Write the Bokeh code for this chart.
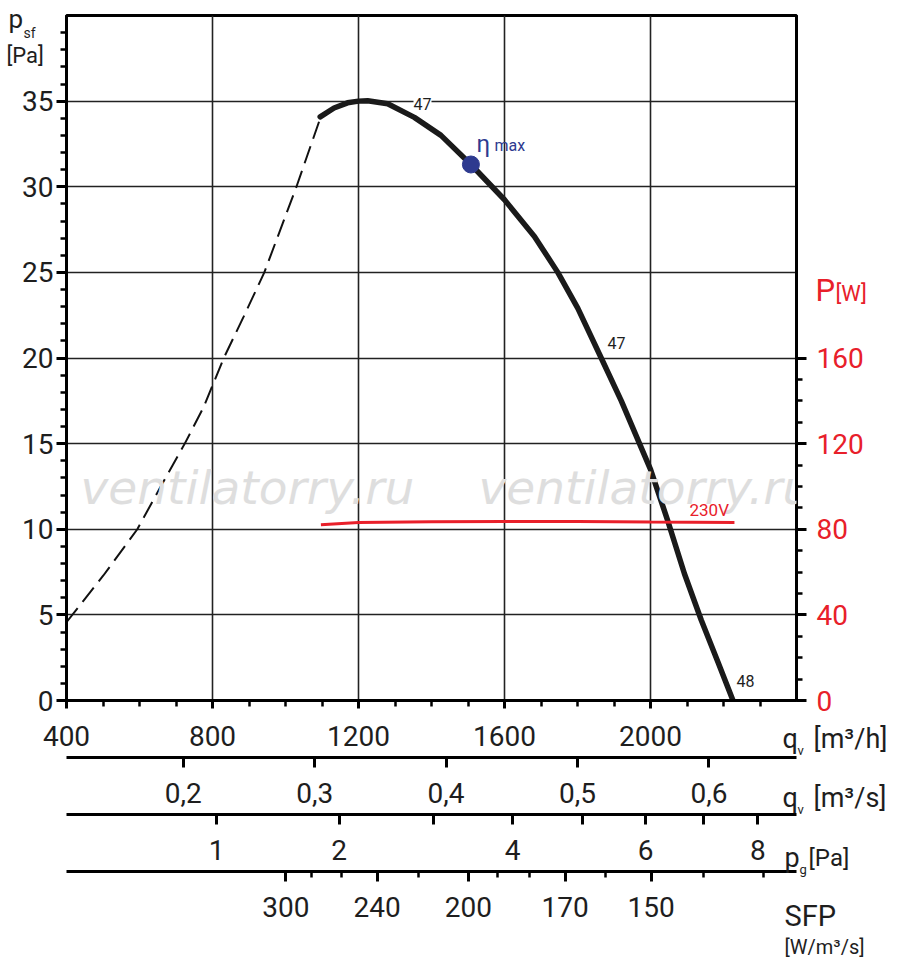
import numpy as np
from bokeh.plotting import figure
from bokeh.models import Range1d, LinearAxis, FixedTicker, Label
from bokeh.core.properties import value
from bokeh.embed import file_html
from bokeh.resources import INLINE

# ---------------- data ----------------
q_dash = [400, 501, 594, 657, 724, 775, 831, 885, 942, 1030, 1096]          # m3/h, unstable part
p_dash = [4.57, 7.3, 10.0, 12.45, 15.0, 17.1, 20.0, 22.4, 25.0, 30.0, 34.05]  # Pa
q_solid = [1095, 1133, 1170, 1200, 1225, 1280, 1353, 1426, 1508, 1600, 1682, 1746, 1801, 1865, 1920, 2000, 2048, 2093, 2139, 2185, 2226]
p_solid = [34.08, 34.6, 34.9, 35.0, 35.02, 34.85, 34.05, 33.0, 31.3, 29.24, 27.1, 25.0, 22.9, 20.0, 17.5, 13.5, 10.45, 7.4, 4.7, 2.23, 0.0]
q_eta, p_eta = 1508, 31.3
q_pow = [1097, 1200, 1400, 1600, 1800, 2000, 2230]
w_pow = [82.1, 83.2, 83.5, 83.6, 83.6, 83.4, 83.2]            # W
x_ticks = [400, 800, 1200, 1600, 2000]
y_ticks = [0, 5, 10, 15, 20, 25, 30, 35]
w_ticks = [0, 40, 80, 120, 160]
qs_ticks = [0.2, 0.3, 0.4, 0.5, 0.6]
pg_ticks = [1, 2, 3, 4, 5, 6, 7, 8]
pg_labeled = [1, 2, 4, 6, 8]
sfp_major = [300, 240, 200, 170, 150]
sfp_minor = [280, 260, 220, 190, 180, 160, 140, 130]
PG1_Q = 811.0          # m3/h at which p_g = 1 Pa
SFP_P = 83.4           # W used for SFP scale

FONT = "Roboto"
TS = "28px"
RED = "#e8202a"
INK = "#1e1e1e"

# frame geometry helpers (canvas px -> data), for text placement only
def dx(px):
    return 400 + (px - 66) * 2000 / 730
def dy(py):
    return (700 - py) * 40 / 685

p = figure(frame_width=730, frame_height=685, x_range=Range1d(400, 2400), y_range=Range1d(0, 40),
           output_backend="svg", toolbar_location=None, min_border_left=66, min_border_right=104,
           min_border_top=15, min_border_bottom=5)
p.background_fill_color = "white"
p.outline_line_color = "black"
p.outline_line_width = 3

p.xgrid.ticker = FixedTicker(ticks=x_ticks)
p.ygrid.ticker = FixedTicker(ticks=y_ticks)
for g in (p.xgrid, p.ygrid):
    g.grid_line_color = "#222222"
    g.grid_line_width = 1.6

def style_axis(ax, color=INK):
    ax.axis_line_width = 3
    ax.axis_line_color = "black"
    ax.major_tick_line_width = 3
    ax.minor_tick_line_width = 2.5
    ax.major_tick_line_color = "black"
    ax.minor_tick_line_color = "black"
    ax.major_label_text_font = FONT
    ax.major_label_text_font_size = TS
    ax.major_label_text_color = color

def pad(ax, size="6px"):
    ax.axis_label = "\u00a0"
    ax.axis_label_text_font_size = size
    ax.axis_label_standoff = 0

# left axis
ya = p.yaxis[0]
ya.ticker = FixedTicker(ticks=y_ticks, minor_ticks=list(range(1, 40)))
style_axis(ya)
ya.major_tick_out = 10; ya.major_tick_in = 0
ya.minor_tick_out = 6; ya.minor_tick_in = 0
ya.major_label_standoff = 3

# right axis (W)
p.extra_y_ranges = {"pw": Range1d(0, 320)}
ra = LinearAxis(y_range_name="pw", ticker=FixedTicker(ticks=w_ticks, minor_ticks=list(range(10, 160, 10))))
style_axis(ra, RED)
ra.major_tick_out = 10; ra.major_tick_in = 0
ra.minor_tick_out = 6; ra.minor_tick_in = 0
ra.major_label_standoff = 10
p.add_layout(ra, "right")

# bottom axis m3/h
xa = p.xaxis[0]
xa.ticker = FixedTicker(ticks=x_ticks, minor_ticks=list(range(500, 2400, 100)))
style_axis(xa)
xa.major_tick_out = 8; xa.major_tick_in = 0
xa.minor_tick_out = 6; xa.minor_tick_in = 0
xa.major_label_standoff = 17
pad(xa)

p.extra_x_ranges = {"qs": Range1d(400 / 3600, 2400 / 3600), "q2": Range1d(400, 2400), "q3": Range1d(400, 2400)}

# m3/s axis
a_qs = LinearAxis(x_range_name="qs", ticker=FixedTicker(ticks=qs_ticks, minor_ticks=[]))
style_axis(a_qs)
a_qs.major_tick_out = 10; a_qs.major_tick_in = 0
a_qs.major_label_standoff = 15
a_qs.major_label_overrides = {t: ("%.1f" % t).replace(".", ",") for t in qs_ticks}
pad(a_qs)
p.add_layout(a_qs, "below")

# p_g axis
pg_pos = [PG1_Q * np.sqrt(v) for v in pg_ticks]
a_pg = LinearAxis(x_range_name="q2", ticker=FixedTicker(ticks=pg_pos, minor_ticks=[]))
style_axis(a_pg)
a_pg.major_tick_out = 10; a_pg.major_tick_in = 0
a_pg.major_label_standoff = 15
a_pg.major_label_overrides = {pos: (str(v) if v in pg_labeled else "") for pos, v in zip(pg_pos, pg_ticks)}
pad(a_pg)
p.add_layout(a_pg, "below")

# SFP axis
sfp_pos = [SFP_P * 3600 / v for v in sfp_major]
sfp_mpos = [SFP_P * 3600 / v for v in sfp_minor]
a_sfp = LinearAxis(x_range_name="q3", ticker=FixedTicker(ticks=sfp_pos, minor_ticks=sfp_mpos))
style_axis(a_sfp)
a_sfp.major_tick_out = 10; a_sfp.major_tick_in = 0
a_sfp.minor_tick_out = 6; a_sfp.minor_tick_in = 0
a_sfp.major_label_standoff = 15
a_sfp.major_label_overrides = {pos: str(v) for pos, v in zip(sfp_pos, sfp_major)}
pad(a_sfp, "34px")
p.add_layout(a_sfp, "below")

# watermark
for wx in (80, 478):
    p.add_layout(Label(x=dx(wx), y=dy(487), text="ventilatorry.ru", text_font="DejaVu Sans",
                       text_font_style="italic", text_font_size="47px", text_color="#dedede",
                       text_baseline="middle"))

# curves
p.line(q_dash, p_dash, line_color="#111111", line_width=2, line_dash="18 8")
p.line(q_solid, p_solid, line_color="#1a1a1a", line_width=5.5, line_cap="round", line_join="round")
p.line(q_pow, w_pow, y_range_name="pw", line_color=RED, line_width=3)
p.scatter([q_eta], [p_eta], size=17, color="#2e3a8f")

def lab(x, y, t, size="16px", color=INK, bg=None):
    l = Label(x=dx(x), y=dy(y), text=t, text_font=FONT, text_font_size=size, text_color=color,
              text_align="left", text_baseline="middle")
    if bg:
        l.background_fill_color = bg
    p.add_layout(l)

def out(x, y, t, size="25px", color=INK):
    # text outside the frame: drawn at overlay level so it is not clipped
    p.text(x=[dx(x)], y=[dy(y)], text=[t], text_font=value(FONT), text_font_size=size,
           text_color=color, text_align="left", text_baseline="middle", level="overlay")

lab(413, 103, "47", bg="white")
lab(607, 342, "47")
lab(736, 680, "48")
lab(689, 509, "230V", size="17px", color=RED)
lab(476, 143, "η", size="24px", color="#2e3a8f")
lab(494, 145, "max", size="16px", color="#2e3a8f")

# axis titles
out(8, 18, "p", size="26px")
out(23, 32, "sf", size="14px")
out(6, 55, "[Pa]", size="22px")
out(815, 290, "P", size="31px", color=RED)
out(835, 293, "[W]", size="22px", color=RED)
out(782, 738, "q", size="27px")
out(797, 750, "v", size="13px")
out(813, 738, "[m³/h]", size="27px")
out(782, 797, "q", size="27px")
out(797, 809, "v", size="13px")
out(813, 797, "[m³/s]", size="27px")
out(784, 857, "p", size="27px")
out(799, 869, "g", size="13px")
out(808, 857, "[Pa]", size="24px")
out(784, 915, "SFP", size="29px")
out(784, 946, "[W/m³/s]", size="20px")

open("out.html", "w").write(file_html(p, INLINE))
